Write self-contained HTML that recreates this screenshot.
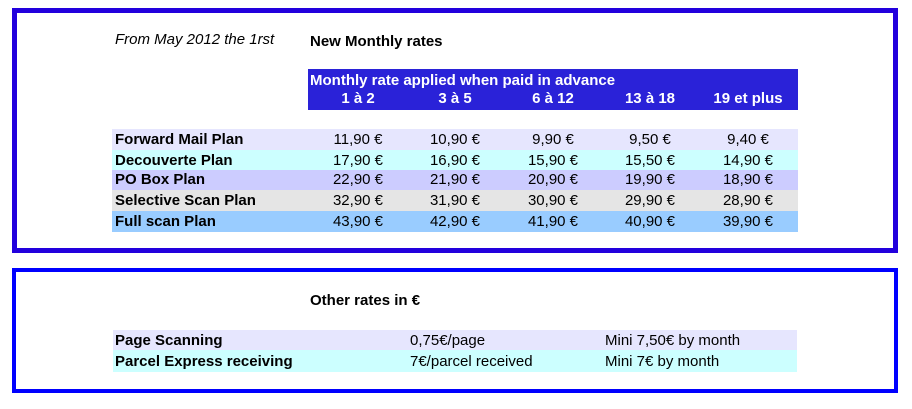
<!DOCTYPE html>
<html><head><meta charset="utf-8"><style>
body{margin:0;width:912px;height:409px;background:#fff;font-family:"Liberation Sans",Arial,sans-serif;font-size:15px;color:#000;position:relative;overflow:hidden}
.a{position:absolute;white-space:nowrap}
.box{position:absolute;box-sizing:border-box}
.row{position:absolute;left:112px;width:686px}
.c{position:absolute;text-align:center;width:100px}
b{font-weight:bold}
</style></head><body>
<div class="box" style="left:12px;top:8px;width:886px;height:245px;border:5px solid #2200dd"></div>
<div class="a" style="left:115px;top:31px;font-style:italic">From May 2012 the 1rst</div>
<div class="a" style="left:310px;top:33px;font-weight:bold">New Monthly rates</div>
<div class="a" style="left:308px;top:69px;width:490px;height:41px;background:#2a22d8;color:#fff;font-weight:bold">
<div class="a" style="left:2px;top:3px">Monthly rate applied when paid in advance</div>
<div class="c" style="left:0px;top:21px">1 à 2</div>
<div class="c" style="left:97px;top:21px">3 à 5</div>
<div class="c" style="left:195px;top:21px">6 à 12</div>
<div class="c" style="left:292px;top:21px">13 à 18</div>
<div class="c" style="left:390px;top:21px">19 et plus</div>
</div>
<div class="row" style="top:129px;height:21px;background:#e6e6fe"><b class="a" style="left:3px;top:2px">Forward Mail Plan</b><span class="c" style="left:196px;top:2px">11,90 €</span><span class="c" style="left:293px;top:2px">10,90 €</span><span class="c" style="left:391px;top:2px">9,90 €</span><span class="c" style="left:488px;top:2px">9,50 €</span><span class="c" style="left:586px;top:2px">9,40 €</span></div>
<div class="row" style="top:150px;height:20px;background:#ccffff"><b class="a" style="left:3px;top:2px">Decouverte Plan</b><span class="c" style="left:196px;top:2px">17,90 €</span><span class="c" style="left:293px;top:2px">16,90 €</span><span class="c" style="left:391px;top:2px">15,90 €</span><span class="c" style="left:488px;top:2px">15,50 €</span><span class="c" style="left:586px;top:2px">14,90 €</span></div>
<div class="row" style="top:170px;height:20px;background:#ccccff"><b class="a" style="left:3px;top:1px">PO Box Plan</b><span class="c" style="left:196px;top:1px">22,90 €</span><span class="c" style="left:293px;top:1px">21,90 €</span><span class="c" style="left:391px;top:1px">20,90 €</span><span class="c" style="left:488px;top:1px">19,90 €</span><span class="c" style="left:586px;top:1px">18,90 €</span></div>
<div class="row" style="top:190px;height:21px;background:#e5e5e5"><b class="a" style="left:3px;top:2px">Selective Scan Plan</b><span class="c" style="left:196px;top:2px">32,90 €</span><span class="c" style="left:293px;top:2px">31,90 €</span><span class="c" style="left:391px;top:2px">30,90 €</span><span class="c" style="left:488px;top:2px">29,90 €</span><span class="c" style="left:586px;top:2px">28,90 €</span></div>
<div class="row" style="top:211px;height:21px;background:#99ccff"><b class="a" style="left:3px;top:2px">Full scan Plan</b><span class="c" style="left:196px;top:2px">43,90 €</span><span class="c" style="left:293px;top:2px">42,90 €</span><span class="c" style="left:391px;top:2px">41,90 €</span><span class="c" style="left:488px;top:2px">40,90 €</span><span class="c" style="left:586px;top:2px">39,90 €</span></div>

<div class="box" style="left:12px;top:268px;width:886px;height:125px;border:4px solid #0000ff"></div>
<div class="a" style="left:310px;top:292px;font-weight:bold">Other rates in €</div>
<div class="row" style="left:113px;width:684px;top:330px;height:20px;background:#e6e6fe"><b class="a" style="left:2px;top:2px">Page Scanning</b><span class="a" style="left:297px;top:2px">0,75€/page</span><span class="a" style="left:492px;top:2px">Mini 7,50€ by month</span></div>
<div class="row" style="left:113px;width:684px;top:350px;height:22px;background:#ccffff"><b class="a" style="left:2px;top:3px">Parcel Express receiving</b><span class="a" style="left:297px;top:3px">7€/parcel received</span><span class="a" style="left:492px;top:3px">Mini 7€ by month</span></div>
</body></html>
